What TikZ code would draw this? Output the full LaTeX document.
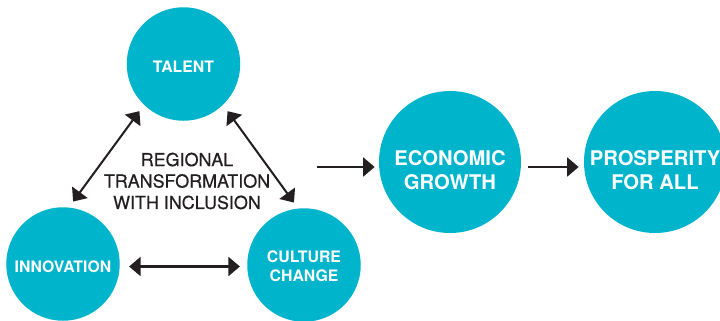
\documentclass[tikz,border=0pt]{standalone}
\usepackage{fontspec}
\setmainfont{TeX Gyre Heros}
\newfontfamily\hubfont[FakeBold=0.5]{TeX Gyre Heros}
\usepackage{xcolor}
\usepackage{tikz}
\usetikzlibrary{arrows.meta}
\definecolor{circ}{HTML}{00B4CC}
\definecolor{ink}{HTML}{231F20}
\tikzset{
  pillarCircle/.style={circle, fill=circ, inner sep=0pt, minimum size=2.27cm},
  goalCircle/.style={pillarCircle, minimum size=2.84cm},
  pillarText/.style={text=white, align=center, yshift=-0.06cm,
    font=\bfseries\fontsize{9}{10.8}\selectfont},
  goalText/.style={text=white, align=center, yshift=-0.17cm,
    font=\bfseries\fontsize{11.5}{13.7}\selectfont},
  linkArrow/.style={draw=ink, line width=1.15pt,
    {Triangle[length=0.23cm,width=0.38cm]}-{Triangle[length=0.23cm,width=0.38cm]}},
  flowArrow/.style={draw=ink, line width=1.15pt, -{Triangle[length=0.23cm,width=0.38cm]}},
  hubText/.style={text=ink, align=center, font=\hubfont\fontsize{10.2}{12.2}\selectfont}
}

\begin{document}
\begin{tikzpicture}
  \clip (0,0) rectangle (14.4,6.4);

  \node[pillarCircle, label={[pillarText]center:TALENT}] (talent) at (3.67,5.12) {};
  \node[pillarCircle, label={[pillarText]center:INNOVATION}] (innov) at (1.26,1.12) {};
  \node[pillarCircle, label={[pillarText, yshift=0.03cm]center:CULTURE\\CHANGE}] (culture) at (6.08,1.10) {};

  \node[hubText] (hub) at (3.74,2.78) {REGIONAL\\TRANSFORMATION\\WITH INCLUSION};

  \node[goalCircle, label={[goalText]center:ECONOMIC\\GROWTH}] (econ) at (9.00,3.16) {};
  \node[goalCircle, label={[goalText]center:PROSPERITY\\FOR ALL}] (prosp) at (13.10,3.16) {};

  \coordinate (tail) at (6.34,3.06);

  % triangle of pillars
  \draw[linkArrow, shorten <=0.15cm, shorten >=0.14cm] (talent.226) -- (innov.84);
  \draw[linkArrow, shorten <=0.15cm, shorten >=0.14cm] (talent.314) -- (culture.96);
  \draw[linkArrow, shorten <=0.18cm, shorten >=0.14cm]
    ([yshift=-0.05cm]innov.east) -- ([yshift=-0.05cm]innov.east -| culture.west);

  % outcomes
  \draw[flowArrow, shorten >=0.08cm] (tail) -- (econ.west |- tail);
  \draw[flowArrow, shorten <=0.14cm, shorten >=0.10cm]
    ([yshift=-0.1cm]econ.east) -- ([yshift=-0.1cm]prosp.west);
\end{tikzpicture}
\end{document}
